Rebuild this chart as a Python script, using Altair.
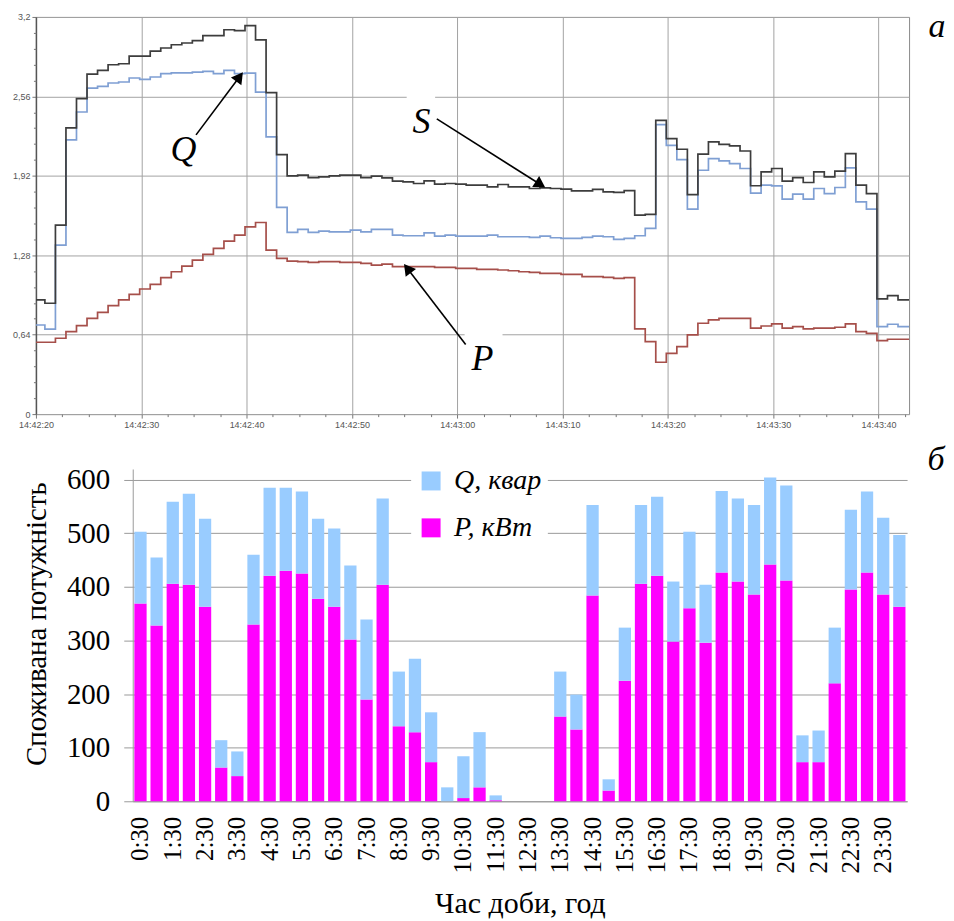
import altair as alt
import pandas as pd

# ---------------- panel а : 1-second samples from 14:42:20 ----------------
S_VALUES = [0.92, 0.893, 1.523, 2.306, 2.542, 2.74, 2.77, 2.815, 2.823, 2.885,
            2.885, 2.925, 2.95, 2.976, 2.99, 3.01, 3.05, 3.05, 3.097, 3.09,
            3.13, 3.016, 2.59, 2.09, 1.92, 1.925, 1.906, 1.912, 1.92, 1.925,
            1.925, 1.906, 1.917, 1.904, 1.877, 1.871, 1.858, 1.879, 1.853, 1.858,
            1.853, 1.845, 1.845, 1.831, 1.85, 1.831, 1.831, 1.818, 1.823, 1.818,
            1.812, 1.799, 1.799, 1.81, 1.791, 1.786, 1.80, 1.603, 1.609, 2.367,
            2.22, 2.134, 1.769, 2.094, 2.193, 2.174, 2.161, 2.12, 1.84, 1.952,
            1.979, 1.877, 1.906, 1.866, 1.952, 1.912, 1.957, 2.099, 1.845, 1.777,
            0.928, 0.954, 0.92]
Q_VALUES = [0.718, 0.684, 1.362, 2.21, 2.434, 2.627, 2.64, 2.668, 2.676, 2.708,
            2.697, 2.716, 2.743, 2.75, 2.75, 2.756, 2.761, 2.743, 2.77, 2.743,
            2.748, 2.595, 2.233, 1.665, 1.464, 1.488, 1.464, 1.475, 1.469, 1.469,
            1.483, 1.469, 1.488, 1.488, 1.442, 1.437, 1.437, 1.461, 1.434, 1.442,
            1.434, 1.434, 1.434, 1.442, 1.429, 1.429, 1.429, 1.424, 1.434, 1.421,
            1.416, 1.416, 1.424, 1.434, 1.429, 1.408, 1.416, 1.437, 1.496, 2.332,
            2.166, 2.051, 1.651, 1.965, 2.059, 2.04, 2.019, 1.979, 1.78, 1.845,
            1.839, 1.732, 1.772, 1.732, 1.818, 1.777, 1.826, 1.984, 1.71, 1.651,
            0.705, 0.724, 0.705]
P_VALUES = [0.579, 0.579, 0.611, 0.665, 0.713, 0.772, 0.82, 0.874, 0.92, 0.965,
            1.008, 1.046, 1.099, 1.147, 1.193, 1.241, 1.287, 1.335, 1.394, 1.442,
            1.509, 1.544, 1.322, 1.255, 1.233, 1.228, 1.223, 1.228, 1.228, 1.223,
            1.223, 1.214, 1.201, 1.209, 1.188, 1.188, 1.188, 1.188, 1.182, 1.182,
            1.174, 1.174, 1.166, 1.166, 1.161, 1.155, 1.147, 1.142, 1.134, 1.134,
            1.126, 1.126, 1.107, 1.107, 1.102, 1.094, 1.099, 0.686, 0.584, 0.418,
            0.49, 0.544, 0.638, 0.732, 0.759, 0.772, 0.772, 0.772, 0.692, 0.71,
            0.727, 0.692, 0.705, 0.686, 0.692, 0.692, 0.70, 0.727, 0.665, 0.651,
            0.592, 0.603, 0.603]

X_MAJOR = [0, 10, 20, 30, 40, 50, 60, 70, 80]
X_MINOR = [2.5 * i for i in range(1, 34) if (i % 4) != 0]
Y_MAJOR = [0, 0.64, 1.28, 1.92, 2.56, 3.2]
Y_MINOR = [round(0.128 * i, 3) for i in range(1, 25) if i % 5 != 0]

# arrows / labels of panel а (data coordinates)
ANN_NAME = ["Q", "S", "P"]
ANN_TAIL_T = [15.2, 38.06, 40.8]
ANN_TAIL_V = [2.25, 2.379, 0.561]
ANN_HEAD_T = [19.33, 47.9, 35.27]
ANN_HEAD_V = [2.718, 1.85, 1.174]
ANN_ANGLE = [36.7, 122.3, 322.6]
ANN_LAB_T = [14.0, 36.6, 42.4]
ANN_LAB_V = [2.13, 2.355, 0.44]
BOX_T1 = [12.7, 35.2, 40.7]
BOX_T2 = [15.6, 37.9, 44.3]
BOX_V1 = [1.97, 2.19, 0.27]
BOX_V2 = [2.30, 2.58, 0.67]

# ---------------- panel б : half-hour consumption ----------------
HALF_HOURS = ["0:30", "1:00", "1:30", "2:00", "2:30", "3:00", "3:30", "4:00",
              "4:30", "5:00", "5:30", "6:00", "6:30", "7:00", "7:30", "8:00",
              "8:30", "9:00", "9:30", "10:00", "10:30", "11:00", "11:30", "12:00",
              "12:30", "13:00", "13:30", "14:00", "14:30", "15:00", "15:30", "16:00",
              "16:30", "17:00", "17:30", "18:00", "18:30", "19:00", "19:30", "20:00",
              "20:30", "21:00", "21:30", "22:00", "22:30", "23:00", "23:30", "24:00"]
LABELLED = [h for h in HALF_HOURS if h.endswith(":30")]
P_KW = [369, 328, 406, 404, 363, 63, 47, 330, 421, 430, 425, 378,
        363, 302, 190, 404, 140, 129, 73, 0, 6, 26, 2, 0,
        0, 0, 158, 134, 384, 20, 225, 406, 421, 298, 360, 296,
        427, 410, 386, 442, 412, 73, 73, 220, 395, 427, 386, 363]
Q_KVAR = [134, 127, 153, 170, 164, 51, 46, 130, 164, 155, 153, 149,
          146, 138, 149, 161, 102, 137, 93, 26, 78, 103, 9, 0,
          0, 0, 84, 65, 169, 21, 99, 147, 147, 112, 143, 108,
          152, 155, 167, 162, 177, 50, 59, 104, 149, 151, 143, 134]

S_COL, Q_COL, P_COL = "#3d3d3d", "#7f9fd3", "#a64f4a"
SERIF = "Liberation Serif"
SANS = "Liberation Sans"

# ---------------- build panel а ----------------
n = len(S_VALUES)
SAMPLE_T = [k - 0.15 for k in range(n)] + [float(n)]


def ext(v):
    return list(v) + [v[-1]]


lines_df = pd.concat([
    pd.DataFrame({"t": SAMPLE_T, "v": ext(P_VALUES), "series": "P"}),
    pd.DataFrame({"t": SAMPLE_T, "v": ext(Q_VALUES), "series": "Q"}),
    pd.DataFrame({"t": SAMPLE_T, "v": ext(S_VALUES), "series": "S"}),
], ignore_index=True)

ann_df = pd.DataFrame({
    "name": ANN_NAME, "tt": ANN_TAIL_T, "tv": ANN_TAIL_V,
    "ht": ANN_HEAD_T, "hv": ANN_HEAD_V, "angle": ANN_ANGLE,
    "lt": ANN_LAB_T, "lv": ANN_LAB_V,
    "bt1": BOX_T1, "bt2": BOX_T2, "bv1": BOX_V1, "bv2": BOX_V2,
})

TOP_W, TOP_H = 875, 398
xs = alt.Scale(domain=[0, 82.9], nice=False, zero=False)
ys = alt.Scale(domain=[0, 3.2], nice=False)
time_label = "timeFormat(datetime(2020, 0, 1, 14, 42, 20 + datum.value), '%H:%M:%S')"

x_major = alt.Axis(values=X_MAJOR, labelExpr=time_label, grid=True, gridColor="#a3a3a3",
                   tickSize=4, tickColor="#777777", domain=False, labelFont=SANS,
                   labelFontSize=9, labelColor="#555555", labelPadding=2, title=None,
                   labelFlush=False, labelOverlap=False, orient="bottom")
y_major = alt.Axis(values=Y_MAJOR, labelExpr="replace(format(datum.value, '.2~f'), '.', ',')",
                   grid=True, gridColor="#a3a3a3", tickSize=4, tickColor="#777777",
                   domainColor="#555555", domainWidth=1.5, labelFont=SANS, labelFontSize=9,
                   labelColor="#555555", labelPadding=2, title=None, labelFlush=False,
                   orient="left")
x_minor = alt.Axis(values=X_MINOR, labels=False, grid=False, domain=False, tickSize=2.5,
                   tickColor="#777777", title=None, orient="bottom")
y_minor = alt.Axis(values=Y_MINOR, labels=False, grid=False, domain=False, tickSize=2.5,
                   tickColor="#777777", title=None, orient="left")

boxes = alt.Chart(ann_df).mark_rect(fill="white").encode(
    x=alt.X("bt1:Q", scale=xs, axis=None), x2="bt2:Q",
    y=alt.Y("bv1:Q", scale=ys, axis=None), y2="bv2:Q")

lines = alt.Chart(lines_df).mark_line(interpolate="step-after", strokeWidth=1.7, clip=True).encode(
    x=alt.X("t:Q", scale=xs, axis=x_major),
    y=alt.Y("v:Q", scale=ys, axis=y_major),
    color=alt.Color("series:N", scale=alt.Scale(domain=["P", "Q", "S"], range=[P_COL, Q_COL, S_COL]),
                    legend=None),
)

minor = alt.Chart(pd.DataFrame({"t": [0.0], "v": [0.0]})).mark_point(opacity=0).encode(
    x=alt.X("t:Q", scale=xs, axis=x_minor),
    y=alt.Y("v:Q", scale=ys, axis=y_minor))

rules = alt.Chart(ann_df).mark_rule(color="black", strokeWidth=1.6).encode(
    x=alt.X("tt:Q", scale=xs, axis=None), x2="ht:Q",
    y=alt.Y("tv:Q", scale=ys, axis=None), y2="hv:Q")

heads = alt.Chart(ann_df).mark_point(shape="triangle-up", filled=True, size=170,
                                      color="black", opacity=1).encode(
    x=alt.X("ht:Q", scale=xs, axis=None),
    y=alt.Y("hv:Q", scale=ys, axis=None),
    angle=alt.Angle("angle:Q", scale=None))

labels = alt.Chart(ann_df).mark_text(font=SERIF, fontStyle="italic", fontSize=36,
                                     color="black", baseline="middle", align="center").encode(
    x=alt.X("lt:Q", scale=xs, axis=None),
    y=alt.Y("lv:Q", scale=ys, axis=None),
    text="name:N")

panel_a = alt.Chart(pd.DataFrame({"s": ["а"]})).mark_text(
    font=SERIF, fontStyle="italic", fontSize=34, color="black", baseline="middle",
    align="center").encode(text="s:N", x=alt.value(903), y=alt.value(10))

top = alt.layer(boxes, lines, minor, rules, heads, labels, panel_a).resolve_axis(
    x="independent", y="independent").properties(
    width=TOP_W, height=TOP_H,
    view=alt.ViewBackground(stroke="#8a8a8a", strokeWidth=1))

# ---------------- build panel б ----------------
bars_df = pd.DataFrame({
    "time": HALF_HOURS * 2,
    "val": P_KW + Q_KVAR,
    "series": ["P, кВт"] * len(HALF_HOURS) + ["Q, квар"] * len(HALF_HOURS),
    "ord": [0] * len(HALF_HOURS) + [1] * len(HALF_HOURS),
})

BOT_W, BOT_H = 776, 333

bars = alt.Chart(bars_df).mark_bar().encode(
    x=alt.X("time:N", sort=HALF_HOURS,
            scale=alt.Scale(paddingInner=0.24, paddingOuter=0.1),
            axis=alt.Axis(values=LABELLED, labelAngle=270, ticks=False, domainColor="#9a9a9a",
                          labelFont=SERIF, labelFontSize=25, labelColor="black", labelPadding=15,
                          title="Час доби, год", titleFont=SERIF, titleFontSize=30,
                          titleFontWeight="normal", titleColor="black", titlePadding=16)),
    y=alt.Y("val:Q", stack="zero", scale=alt.Scale(domain=[0, 620], nice=False),
            axis=alt.Axis(values=[0, 100, 200, 300, 400, 500, 600], grid=True,
                          gridColor="#9a9a9a", tickSize=9, tickColor="#9a9a9a",
                          domainColor="#9a9a9a", labelFont=SERIF, labelFontSize=29,
                          labelColor="black", labelPadding=14,
                          title="Споживана потужність", titleFont=SERIF, titleFontSize=29,
                          titleFontWeight="normal", titleColor="black", titlePadding=15,
                          titleY=155)),
    color=alt.Color("series:N",
                    scale=alt.Scale(domain=["Q, квар", "P, кВт"], range=["#99ccff", "#ff00ff"]),
                    legend=alt.Legend(orient="none", legendX=376, legendY=-8, title=None,
                                      symbolType="square", symbolSize=361, symbolStrokeWidth=0,
                                      symbolOpacity=1, labelFont=SERIF, labelFontStyle="italic",
                                      labelFontSize=28, labelColor="black", labelOffset=9,
                                      fillColor="white", padding=6, rowPadding=19, labelLimit=0,
                                      direction="vertical")),
    order=alt.Order("ord:Q"),
)

panel_b = alt.Chart(pd.DataFrame({"s": ["б"]})).mark_text(
    font=SERIF, fontStyle="italic", fontSize=34, color="black", baseline="middle",
    align="center").encode(text="s:N", x=alt.value(805), y=alt.value(-9))

bottom = alt.layer(bars, panel_b).properties(width=BOT_W, height=BOT_H)

# an empty 1-px cell that lets panel б sit further right than panel а
gap_cell = alt.Chart(pd.DataFrame({"g": [0]})).mark_point(opacity=0).encode(
    x=alt.value(0), y=alt.value(0)).properties(width=1, height=1)

row_b = alt.hconcat(gap_cell, bottom, spacing=-17)

chart = alt.vconcat(top, row_b, spacing=13).resolve_scale(color="independent").properties(
    padding={"left": 3, "top": 0, "right": 0, "bottom": 0}).configure_view(
    strokeWidth=0).configure_legend(labelFont=SERIF, labelFontStyle="italic", labelFontSize=28)

chart.save("out.html", embed_options={"renderer": "svg", "actions": False})
